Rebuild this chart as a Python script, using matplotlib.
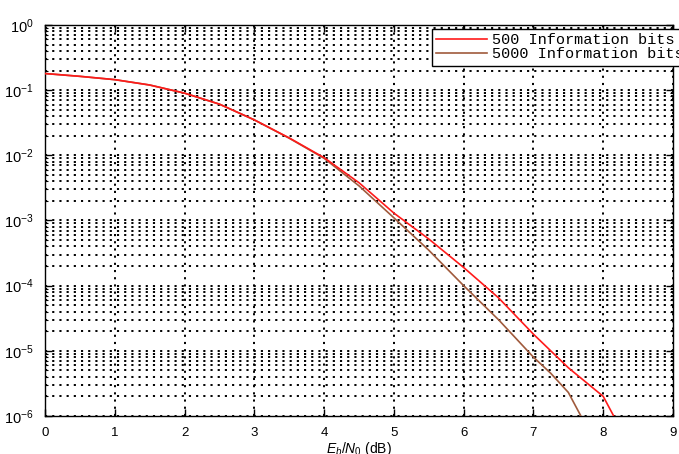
import matplotlib
matplotlib.use("Agg")
import matplotlib.pyplot as plt
from matplotlib.ticker import LogLocator, NullFormatter, MultipleLocator

plt.rcParams['font.family'] = ['Liberation Sans', 'DejaVu Sans']
plt.rcParams['mathtext.fontset'] = 'custom'
plt.rcParams['mathtext.rm'] = 'Liberation Sans'
plt.rcParams['mathtext.it'] = 'Liberation Sans:italic'

# BER curves, Eb/N0 in dB
ebn0_500 = [0, 0.5, 1, 1.5, 2, 2.5, 3, 3.5, 4, 4.5, 5, 5.5, 6, 6.5, 7, 7.5, 8, 8.15]
ber_500 = [0.18, 0.163, 0.145, 0.12, 0.09, 0.061, 0.035, 0.0185, 0.0092, 0.0038,
           0.0013, 5.2e-4, 1.9e-4, 6.5e-5, 1.8e-5, 5.5e-6, 2.0e-6, 1.0e-6]

ebn0_5000 = [0, 0.5, 1, 1.5, 2, 2.5, 3, 3.5, 4, 4.5, 5, 5.5, 6, 6.5, 7, 7.25, 7.5, 7.68]
ber_5000 = [0.18, 0.163, 0.145, 0.12, 0.09, 0.061, 0.035, 0.0183, 0.0090, 0.0034,
            0.0011, 3.5e-4, 1.0e-4, 3.0e-5, 8.0e-6, 4.5e-6, 2.3e-6, 1.0e-6]

labels = ['500 Information bits', '5000 Information bits']
colors = ['#ff1a1a', '#a05a3c']

fig = plt.figure(figsize=(6.79, 4.54), dpi=100)
ax = fig.add_axes([45 / 679, 38 / 454, 628 / 679, 391 / 454])

l2, = ax.semilogy(ebn0_5000, ber_5000, color=colors[1], lw=1.2, zorder=3)
l1, = ax.semilogy(ebn0_500, ber_500, color=colors[0], lw=1.2, zorder=4)

ax.set_xlim(0, 9)
ax.set_ylim(1e-6, 1)
ax.xaxis.set_major_locator(MultipleLocator(1))
ax.yaxis.set_major_locator(LogLocator(base=10, numticks=10))
ax.yaxis.set_minor_locator(LogLocator(base=10, subs=range(2, 10), numticks=20))
ax.yaxis.set_minor_formatter(NullFormatter())

# dense dotted grid on every decade and sub-decade
dots = (0, (1.1, 2.6))
ax.grid(True, which='major', axis='both', color='black', lw=1.4, linestyle=dots)
ax.grid(True, which='minor', axis='y', color='black', lw=1.4, linestyle=dots)

ax.tick_params(which='both', direction='in', top=True, right=True, color='black')
ax.tick_params(which='major', length=5, width=1.0)
ax.tick_params(which='minor', length=2.5, width=0.8)
ax.tick_params(axis='x', labelsize=9.5, pad=8)
ax.tick_params(axis='y', labelsize=10.5, pad=8)
for s in ax.spines.values():
    s.set_linewidth(1.0)
    s.set_color('black')

ax.set_xlabel(r'$E_b/N_0$ (dB)', fontsize=10, labelpad=1)

leg = ax.legend([l1, l2], labels, loc='upper left', bbox_to_anchor=(0.616, 0.99),
                prop={'family': 'Liberation Mono', 'size': 11},
                frameon=True, fancybox=False, framealpha=1, edgecolor='black',
                handlelength=3.3, handletextpad=0.35, labelspacing=0.0,
                borderpad=0.3, borderaxespad=0.0)
leg.get_frame().set_linewidth(1.0)

fig.savefig('out.png', dpi=100)
